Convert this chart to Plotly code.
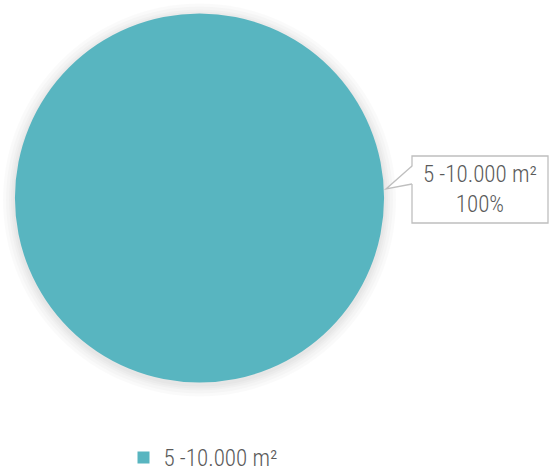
import plotly.graph_objects as go

# Data
categories = ["5 -10.000 m²"]
values = [100]
colors = ["#58B5C0"]

W, H = 549, 473
FONT = "Liberation Sans Narrow, Roboto Condensed, Arial Narrow, sans-serif"
TEXT_COLOR = "#5A5A5A"
WEIGHT = 300


def px(x):
    return x / W


def py(y):
    return 1 - y / H


fig = go.Figure(
    go.Pie(
        labels=categories,
        values=values,
        marker=dict(colors=colors, line=dict(width=0)),
        textinfo="none",
        sort=False,
        direction="clockwise",
        domain=dict(x=[px(15), px(384)], y=[py(383), py(13)]),
        hoverinfo="label+percent",
    )
)

shapes = []
# soft drop shadow around the pie
cx, cy, r = 199.5, 198, 184.5
for grow in [12, 9, 6, 4, 2]:
    shapes.append(
        dict(
            type="circle", xref="paper", yref="paper", layer="below",
            x0=px(cx - r - grow), x1=px(cx + r + grow),
            y0=py(cy + r + grow + 2), y1=py(cy - r - grow + 2),
            fillcolor="rgba(0,0,0,0.018)", line=dict(width=0),
        )
    )

# callout box for the data label
shapes.append(
    dict(type="rect", xref="paper", yref="paper", layer="above",
         x0=px(412), x1=px(548), y0=py(223), y1=py(156),
         fillcolor="white", line=dict(color="#BFBFBF", width=1.3))
)
shapes.append(
    dict(type="path", xref="paper", yref="paper", layer="above",
         path=f"M {px(413)} {py(166)} L {px(386)} {py(189)} L {px(413)} {py(184)} Z",
         fillcolor="white", line=dict(width=0))
)
shapes.append(
    dict(type="path", xref="paper", yref="paper", layer="above",
         path=f"M {px(412)} {py(166)} L {px(386)} {py(189)} L {px(412)} {py(184)}",
         line=dict(color="#BFBFBF", width=1.3))
)

label_text = f"{categories[0]}<br>{values[0] / sum(values) * 100:.0f}%"

fig.update_layout(
    width=W,
    height=H,
    margin=dict(l=0, r=0, t=0, b=0, autoexpand=False),
    paper_bgcolor="white",
    plot_bgcolor="white",
    font=dict(family=FONT, color=TEXT_COLOR, size=23, weight=WEIGHT),
    shapes=shapes,
    annotations=[
        dict(
            text=label_text, xref="paper", yref="paper",
            x=px(480), y=py(189), xanchor="center", yanchor="middle",
            showarrow=False, align="center",
            font=dict(family=FONT, size=23, color=TEXT_COLOR, weight=WEIGHT),
        )
    ],
    showlegend=True,
    legend=dict(
        orientation="h", x=px(203), xanchor="center",
        y=py(436), yanchor="top",
        font=dict(family=FONT, size=23, color=TEXT_COLOR, weight=WEIGHT),
        itemwidth=30, bgcolor="rgba(0,0,0,0)",
    ),
)

fig.write_html("out.html")
